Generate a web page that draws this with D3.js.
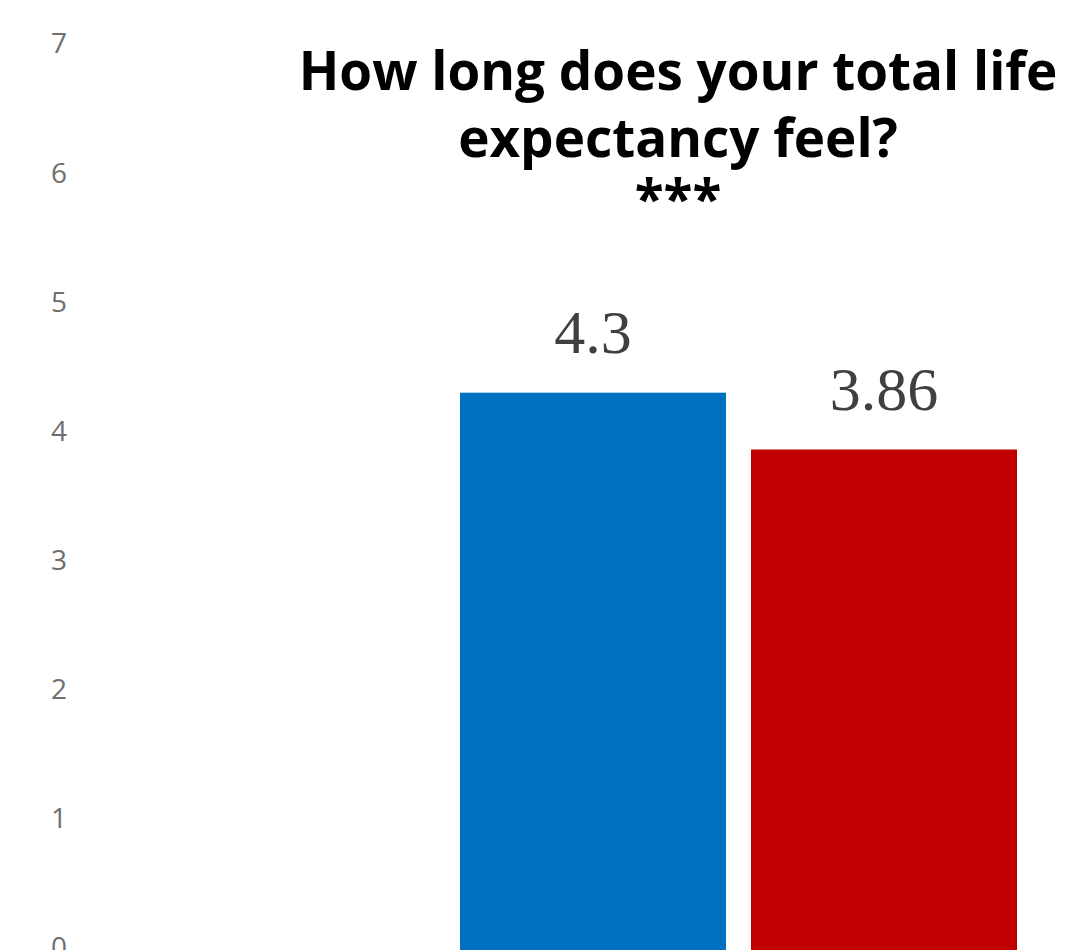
<!DOCTYPE html>
<html>
<head>
<meta charset="utf-8">
<script src="https://cdn.jsdelivr.net/npm/d3@7"></script>
<style>
  body { margin: 0; background: #fff; }
  svg { display: block; }
</style>
</head>
<body>
<svg id="chart" width="1065" height="950"></svg>
<script>
const groups = ["Group 1", "Group 2"];
const values = [4.3, 3.86];
const valueLabels = ["4.3", "3.86"];
const colors = ["#0070C0", "#C00000"];
const yTicks = [0, 1, 2, 3, 4, 5, 6, 7];
const titleLines = ["How long does your total life", "expectancy feel?", "***"];

function drawChart() {
  let svg = d3.select("#chart");

  let y = d3.scaleLinear().domain([0, 7]).range([948, 44]);
  let x = d3.scaleBand().domain(groups).range([460, 1017]).paddingInner(0.086).paddingOuter(0);

  // y axis: labels only, no line or ticks
  let yAxis = svg.append("g")
    .attr("transform", "translate(70,0)")
    .call(d3.axisLeft(y).tickValues(yTicks).tickFormat(d3.format("d")).tickSize(0).tickPadding(0));
  yAxis.select(".domain").remove();
  yAxis.selectAll("text")
    .style("font-family", "'Open Sans', sans-serif")
    .style("font-size", "28px")
    .style("fill", "#6f6f6f")
    .attr("text-anchor", "middle")
    .attr("x", -11);

  // bars
  svg.selectAll("rect.bar")
    .data(values)
    .enter()
    .append("rect")
    .attr("class", "bar")
    .attr("x", (d, i) => x(groups[i]))
    .attr("width", x.bandwidth())
    .attr("y", (d) => y(d))
    .attr("height", (d) => y(0) - y(d) + 10)
    .style("fill", (d, i) => colors[i]);

  // value labels
  svg.selectAll("text.val")
    .data(values)
    .enter()
    .append("text")
    .attr("class", "val")
    .attr("x", (d, i) => x(groups[i]) + x.bandwidth() / 2)
    .attr("y", (d) => y(d) - 40)
    .attr("text-anchor", "middle")
    .style("font-family", "'Liberation Serif', 'Times New Roman', serif")
    .style("font-size", "62px")
    .style("fill", "#404040")
    .text((d, i) => valueLabels[i]);

  // title
  svg.append("text")
    .attr("x", 678)
    .attr("y", 90)
    .attr("text-anchor", "middle")
    .style("font-family", "'Open Sans', sans-serif")
    .style("font-weight", "bold")
    .style("font-size", "53px")
    .style("fill", "#000")
    .selectAll("tspan")
    .data(titleLines)
    .enter()
    .append("tspan")
    .attr("x", 678)
    .attr("dy", (d, i) => (i === 0 ? 0 : i === 1 ? 67 : 61))
    .text((d) => d);
}

drawChart();
</script>
</body>
</html>
